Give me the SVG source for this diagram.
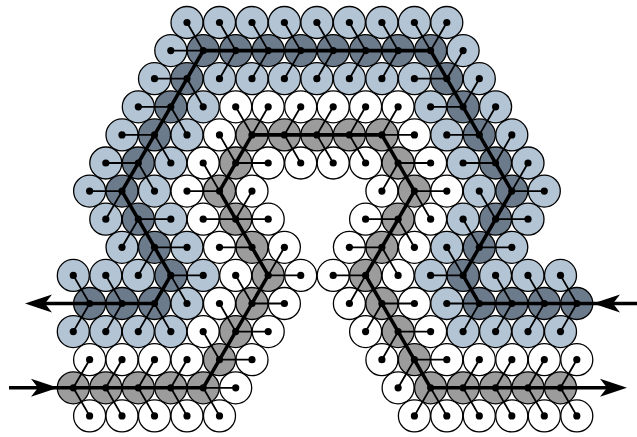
<svg xmlns="http://www.w3.org/2000/svg" xmlns:xlink="http://www.w3.org/1999/xlink" width="637" height="437" viewBox="0 0 637 437">
<style>
.ring{stroke:#000;stroke-width:1.3}
.fL{fill:#b3c4d4}.fD{fill:#6b7b8c}.fG{fill:#9c9c9c}.fW{fill:#fff}
.dot{fill:#000}
.t{stroke:#000;stroke-width:1.8;stroke-linecap:round}
.p{stroke:#000;stroke-width:3.6;fill:none;stroke-linejoin:round}
.ah{fill:#000}
</style>
<defs>
<g id="L"><circle class="ring fL" r="16"/><circle class="dot" r="3.6"/></g>
<g id="D"><circle class="ring fD" r="16"/><circle class="dot" r="3.6"/></g>
<g id="G"><circle class="ring fG" r="16"/><circle class="dot" r="3.6"/></g>
<g id="W"><circle class="ring fW" r="16"/><circle class="dot" r="3.6"/></g>
<path id="ah" d="M0,0 L-27,-9 L-20,0 L-27,9 Z"/>
</defs>
<rect width="637" height="437" fill="#fff"/>
<g id="nodes">
<g id="n0_10"><use href="#L" x="187.0" y="22.5"/></g>
<g id="n0_12"><use href="#L" x="219.5" y="22.5"/></g>
<g id="n0_14"><use href="#L" x="252.0" y="22.5"/></g>
<g id="n0_16"><use href="#L" x="284.4" y="22.5"/></g>
<g id="n0_18"><use href="#L" x="316.9" y="22.5"/></g>
<g id="n0_20"><use href="#L" x="349.4" y="22.5"/></g>
<g id="n0_22"><use href="#L" x="381.9" y="22.5"/></g>
<g id="n0_24"><use href="#L" x="414.4" y="22.5"/></g>
<g id="n0_26"><use href="#L" x="446.8" y="22.5"/></g>

<g id="n1_9"><use href="#L" x="170.8" y="50.6"/></g>
<g id="n1_11"><use href="#D" x="203.2" y="50.6"/></g>
<g id="n1_13"><use href="#D" x="235.7" y="50.6"/></g>
<g id="n1_15"><use href="#D" x="268.2" y="50.6"/></g>
<g id="n1_17"><use href="#D" x="300.7" y="50.6"/></g>
<g id="n1_19"><use href="#D" x="333.2" y="50.6"/></g>
<g id="n1_21"><use href="#D" x="365.6" y="50.6"/></g>
<g id="n1_23"><use href="#D" x="398.1" y="50.6"/></g>
<g id="n1_25"><use href="#D" x="430.6" y="50.6"/></g>
<g id="n1_27"><use href="#L" x="463.1" y="50.6"/></g>

<g id="n2_8"><use href="#L" x="154.5" y="78.7"/></g>
<g id="n2_10"><use href="#D" x="187.0" y="78.7"/></g>
<g id="n2_12"><use href="#L" x="219.5" y="78.7"/></g>
<g id="n2_14"><use href="#L" x="252.0" y="78.7"/></g>
<g id="n2_16"><use href="#L" x="284.4" y="78.7"/></g>
<g id="n2_18"><use href="#L" x="316.9" y="78.7"/></g>
<g id="n2_20"><use href="#L" x="349.4" y="78.7"/></g>
<g id="n2_22"><use href="#L" x="381.9" y="78.7"/></g>
<g id="n2_24"><use href="#L" x="414.4" y="78.7"/></g>
<g id="n2_26"><use href="#D" x="446.8" y="78.7"/></g>
<g id="n2_28"><use href="#L" x="479.3" y="78.7"/></g>

<g id="n3_7"><use href="#L" x="138.3" y="106.8"/></g>
<g id="n3_9"><use href="#D" x="170.8" y="106.8"/></g>
<g id="n3_11"><use href="#L" x="203.2" y="106.8"/></g>
<g id="n3_13"><use href="#W" x="235.7" y="106.8"/></g>
<g id="n3_15"><use href="#W" x="268.2" y="106.8"/></g>
<g id="n3_17"><use href="#W" x="300.7" y="106.8"/></g>
<g id="n3_19"><use href="#W" x="333.2" y="106.8"/></g>
<g id="n3_21"><use href="#W" x="365.6" y="106.8"/></g>
<g id="n3_23"><use href="#W" x="398.1" y="106.8"/></g>
<g id="n3_25"><use href="#L" x="430.6" y="106.8"/></g>
<g id="n3_27"><use href="#D" x="463.1" y="106.8"/></g>
<g id="n3_29"><use href="#L" x="495.6" y="106.8"/></g>

<g id="n4_6"><use href="#L" x="122.0" y="134.9"/></g>
<g id="n4_8"><use href="#D" x="154.5" y="134.9"/></g>
<g id="n4_10"><use href="#L" x="187.0" y="134.9"/></g>
<g id="n4_12"><use href="#W" x="219.5" y="134.9"/></g>
<g id="n4_14"><use href="#G" x="252.0" y="134.9"/></g>
<g id="n4_16"><use href="#G" x="284.4" y="134.9"/></g>
<g id="n4_18"><use href="#G" x="316.9" y="134.9"/></g>
<g id="n4_20"><use href="#G" x="349.4" y="134.9"/></g>
<g id="n4_22"><use href="#G" x="381.9" y="134.9"/></g>
<g id="n4_24"><use href="#W" x="414.4" y="134.9"/></g>
<g id="n4_26"><use href="#L" x="446.8" y="134.9"/></g>
<g id="n4_28"><use href="#D" x="479.3" y="134.9"/></g>
<g id="n4_30"><use href="#L" x="511.8" y="134.9"/></g>

<g id="n5_5"><use href="#L" x="105.8" y="163.0"/></g>
<g id="n5_7"><use href="#D" x="138.3" y="163.0"/></g>
<g id="n5_9"><use href="#L" x="170.8" y="163.0"/></g>
<g id="n5_11"><use href="#W" x="203.2" y="163.0"/></g>
<g id="n5_13"><use href="#G" x="235.7" y="163.0"/></g>
<g id="n5_15"><use href="#W" x="268.2" y="163.0"/></g>
<g id="n5_17"><use href="#W" x="300.7" y="163.0"/></g>
<g id="n5_19"><use href="#W" x="333.2" y="163.0"/></g>
<g id="n5_21"><use href="#W" x="365.6" y="163.0"/></g>
<g id="n5_23"><use href="#G" x="398.1" y="163.0"/></g>
<g id="n5_25"><use href="#W" x="430.6" y="163.0"/></g>
<g id="n5_27"><use href="#L" x="463.1" y="163.0"/></g>
<g id="n5_29"><use href="#D" x="495.6" y="163.0"/></g>
<g id="n5_31"><use href="#L" x="528.0" y="163.0"/></g>

<g id="n6_4"><use href="#L" x="89.6" y="191.1"/></g>
<g id="n6_6"><use href="#D" x="122.0" y="191.1"/></g>
<g id="n6_8"><use href="#L" x="154.5" y="191.1"/></g>
<g id="n6_10"><use href="#W" x="187.0" y="191.1"/></g>
<g id="n6_12"><use href="#G" x="219.5" y="191.1"/></g>
<g id="n6_14"><use href="#W" x="252.0" y="191.1"/></g>
<g id="n6_22"><use href="#W" x="381.9" y="191.1"/></g>
<g id="n6_24"><use href="#G" x="414.4" y="191.1"/></g>
<g id="n6_26"><use href="#W" x="446.8" y="191.1"/></g>
<g id="n6_28"><use href="#L" x="479.3" y="191.1"/></g>
<g id="n6_30"><use href="#D" x="511.8" y="191.1"/></g>
<g id="n6_32"><use href="#L" x="544.3" y="191.1"/></g>

<g id="n7_5"><use href="#L" x="105.8" y="219.2"/></g>
<g id="n7_7"><use href="#D" x="138.3" y="219.2"/></g>
<g id="n7_9"><use href="#L" x="170.8" y="219.2"/></g>
<g id="n7_11"><use href="#W" x="203.2" y="219.2"/></g>
<g id="n7_13"><use href="#G" x="235.7" y="219.2"/></g>
<g id="n7_15"><use href="#W" x="268.2" y="219.2"/></g>
<g id="n7_21"><use href="#W" x="365.6" y="219.2"/></g>
<g id="n7_23"><use href="#G" x="398.1" y="219.2"/></g>
<g id="n7_25"><use href="#W" x="430.6" y="219.2"/></g>
<g id="n7_27"><use href="#L" x="463.1" y="219.2"/></g>
<g id="n7_29"><use href="#D" x="495.6" y="219.2"/></g>
<g id="n7_31"><use href="#L" x="528.0" y="219.2"/></g>

<g id="n8_6"><use href="#L" x="122.0" y="247.3"/></g>
<g id="n8_8"><use href="#D" x="154.5" y="247.3"/></g>
<g id="n8_10"><use href="#L" x="187.0" y="247.3"/></g>
<g id="n8_12"><use href="#W" x="219.5" y="247.3"/></g>
<g id="n8_14"><use href="#G" x="252.0" y="247.3"/></g>
<g id="n8_16"><use href="#W" x="284.4" y="247.3"/></g>
<g id="n8_20"><use href="#W" x="349.4" y="247.3"/></g>
<g id="n8_22"><use href="#G" x="381.9" y="247.3"/></g>
<g id="n8_24"><use href="#W" x="414.4" y="247.3"/></g>
<g id="n8_26"><use href="#L" x="446.8" y="247.3"/></g>
<g id="n8_28"><use href="#D" x="479.3" y="247.3"/></g>
<g id="n8_30"><use href="#L" x="511.8" y="247.3"/></g>

<g id="n9_3"><use href="#L" x="73.3" y="275.4"/></g>
<g id="n9_5"><use href="#L" x="105.8" y="275.4"/></g>
<g id="n9_7"><use href="#L" x="138.3" y="275.4"/></g>
<g id="n9_9"><use href="#D" x="170.8" y="275.4"/></g>
<g id="n9_11"><use href="#L" x="203.2" y="275.4"/></g>
<g id="n9_13"><use href="#W" x="235.7" y="275.4"/></g>
<g id="n9_15"><use href="#G" x="268.2" y="275.4"/></g>
<g id="n9_17"><use href="#W" x="300.7" y="275.4"/></g>
<g id="n9_19"><use href="#W" x="333.2" y="275.4"/></g>
<g id="n9_21"><use href="#G" x="365.6" y="275.4"/></g>
<g id="n9_23"><use href="#W" x="398.1" y="275.4"/></g>
<g id="n9_25"><use href="#L" x="430.6" y="275.4"/></g>
<g id="n9_27"><use href="#D" x="463.1" y="275.4"/></g>
<g id="n9_29"><use href="#L" x="495.6" y="275.4"/></g>
<g id="n9_31"><use href="#L" x="528.0" y="275.4"/></g>
<g id="n9_33"><use href="#L" x="560.5" y="275.4"/></g>

<g id="n10_4"><use href="#D" x="89.6" y="303.5"/></g>
<g id="n10_6"><use href="#D" x="122.0" y="303.5"/></g>
<g id="n10_8"><use href="#D" x="154.5" y="303.5"/></g>
<g id="n10_10"><use href="#L" x="187.0" y="303.5"/></g>
<g id="n10_12"><use href="#W" x="219.5" y="303.5"/></g>
<g id="n10_14"><use href="#G" x="252.0" y="303.5"/></g>
<g id="n10_16"><use href="#W" x="284.4" y="303.5"/></g>
<g id="n10_20"><use href="#W" x="349.4" y="303.5"/></g>
<g id="n10_22"><use href="#G" x="381.9" y="303.5"/></g>
<g id="n10_24"><use href="#W" x="414.4" y="303.5"/></g>
<g id="n10_26"><use href="#L" x="446.8" y="303.5"/></g>
<g id="n10_28"><use href="#D" x="479.3" y="303.5"/></g>
<g id="n10_30"><use href="#D" x="511.8" y="303.5"/></g>
<g id="n10_32"><use href="#D" x="544.3" y="303.5"/></g>
<g id="n10_34"><use href="#D" x="576.8" y="303.5"/></g>

<g id="n11_3"><use href="#L" x="73.3" y="331.6"/></g>
<g id="n11_5"><use href="#L" x="105.8" y="331.6"/></g>
<g id="n11_7"><use href="#L" x="138.3" y="331.6"/></g>
<g id="n11_9"><use href="#L" x="170.8" y="331.6"/></g>
<g id="n11_11"><use href="#W" x="203.2" y="331.6"/></g>
<g id="n11_13"><use href="#G" x="235.7" y="331.6"/></g>
<g id="n11_15"><use href="#W" x="268.2" y="331.6"/></g>
<g id="n11_21"><use href="#W" x="365.6" y="331.6"/></g>
<g id="n11_23"><use href="#G" x="398.1" y="331.6"/></g>
<g id="n11_25"><use href="#W" x="430.6" y="331.6"/></g>
<g id="n11_27"><use href="#L" x="463.1" y="331.6"/></g>
<g id="n11_29"><use href="#L" x="495.6" y="331.6"/></g>
<g id="n11_31"><use href="#L" x="528.0" y="331.6"/></g>
<g id="n11_33"><use href="#L" x="560.5" y="331.6"/></g>

<g id="n12_4"><use href="#W" x="89.6" y="359.7"/></g>
<g id="n12_6"><use href="#W" x="122.0" y="359.7"/></g>
<g id="n12_8"><use href="#W" x="154.5" y="359.7"/></g>
<g id="n12_10"><use href="#W" x="187.0" y="359.7"/></g>
<g id="n12_12"><use href="#G" x="219.5" y="359.7"/></g>
<g id="n12_14"><use href="#W" x="252.0" y="359.7"/></g>
<g id="n12_22"><use href="#W" x="381.9" y="359.7"/></g>
<g id="n12_24"><use href="#G" x="414.4" y="359.7"/></g>
<g id="n12_26"><use href="#W" x="446.8" y="359.7"/></g>
<g id="n12_28"><use href="#W" x="479.3" y="359.7"/></g>
<g id="n12_30"><use href="#W" x="511.8" y="359.7"/></g>
<g id="n12_32"><use href="#W" x="544.3" y="359.7"/></g>
<g id="n12_34"><use href="#W" x="576.8" y="359.7"/></g>

<g id="n13_3"><use href="#G" x="73.3" y="387.8"/></g>
<g id="n13_5"><use href="#G" x="105.8" y="387.8"/></g>
<g id="n13_7"><use href="#G" x="138.3" y="387.8"/></g>
<g id="n13_9"><use href="#G" x="170.8" y="387.8"/></g>
<g id="n13_11"><use href="#G" x="203.2" y="387.8"/></g>
<g id="n13_13"><use href="#W" x="235.7" y="387.8"/></g>
<g id="n13_23"><use href="#W" x="398.1" y="387.8"/></g>
<g id="n13_25"><use href="#G" x="430.6" y="387.8"/></g>
<g id="n13_27"><use href="#G" x="463.1" y="387.8"/></g>
<g id="n13_29"><use href="#G" x="495.6" y="387.8"/></g>
<g id="n13_31"><use href="#G" x="528.0" y="387.8"/></g>
<g id="n13_33"><use href="#G" x="560.5" y="387.8"/></g>

<g id="n14_4"><use href="#W" x="89.6" y="415.9"/></g>
<g id="n14_6"><use href="#W" x="122.0" y="415.9"/></g>
<g id="n14_8"><use href="#W" x="154.5" y="415.9"/></g>
<g id="n14_10"><use href="#W" x="187.0" y="415.9"/></g>
<g id="n14_12"><use href="#W" x="219.5" y="415.9"/></g>
<g id="n14_24"><use href="#W" x="414.4" y="415.9"/></g>
<g id="n14_26"><use href="#W" x="446.8" y="415.9"/></g>
<g id="n14_28"><use href="#W" x="479.3" y="415.9"/></g>
<g id="n14_30"><use href="#W" x="511.8" y="415.9"/></g>
<g id="n14_32"><use href="#W" x="544.3" y="415.9"/></g>
<g id="n14_34"><use href="#W" x="576.8" y="415.9"/></g>
</g>
<g id="connectors">
<g id="links">
<line class="t" x1="187.0" y1="22.5" x2="203.2" y2="50.6"/>
<line class="t" x1="219.5" y1="22.5" x2="235.7" y2="50.6"/>
<line class="t" x1="252.0" y1="22.5" x2="268.2" y2="50.6"/>
<line class="t" x1="284.4" y1="22.5" x2="300.7" y2="50.6"/>
<line class="t" x1="316.9" y1="22.5" x2="333.2" y2="50.6"/>
<line class="t" x1="349.4" y1="22.5" x2="365.6" y2="50.6"/>
<line class="t" x1="381.9" y1="22.5" x2="398.1" y2="50.6"/>
<line class="t" x1="414.4" y1="22.5" x2="430.6" y2="50.6"/>
<line class="t" x1="446.8" y1="22.5" x2="430.6" y2="50.6"/>
<line class="t" x1="170.8" y1="50.6" x2="203.2" y2="50.6"/>
<line class="t" x1="463.1" y1="50.6" x2="446.8" y2="78.7"/>
<line class="t" x1="154.5" y1="78.7" x2="187.0" y2="78.7"/>
<line class="t" x1="219.5" y1="78.7" x2="235.7" y2="50.6"/>
<line class="t" x1="252.0" y1="78.7" x2="268.2" y2="50.6"/>
<line class="t" x1="284.4" y1="78.7" x2="300.7" y2="50.6"/>
<line class="t" x1="316.9" y1="78.7" x2="333.2" y2="50.6"/>
<line class="t" x1="349.4" y1="78.7" x2="365.6" y2="50.6"/>
<line class="t" x1="381.9" y1="78.7" x2="398.1" y2="50.6"/>
<line class="t" x1="414.4" y1="78.7" x2="446.8" y2="78.7"/>
<line class="t" x1="479.3" y1="78.7" x2="463.1" y2="106.8"/>
<line class="t" x1="138.3" y1="106.8" x2="170.8" y2="106.8"/>
<line class="t" x1="203.2" y1="106.8" x2="187.0" y2="78.7"/>
<line class="t" x1="235.7" y1="106.8" x2="252.0" y2="134.9"/>
<line class="t" x1="268.2" y1="106.8" x2="252.0" y2="134.9"/>
<line class="t" x1="300.7" y1="106.8" x2="284.4" y2="134.9"/>
<line class="t" x1="333.2" y1="106.8" x2="316.9" y2="134.9"/>
<line class="t" x1="365.6" y1="106.8" x2="349.4" y2="134.9"/>
<line class="t" x1="398.1" y1="106.8" x2="381.9" y2="134.9"/>
<line class="t" x1="430.6" y1="106.8" x2="463.1" y2="106.8"/>
<line class="t" x1="495.6" y1="106.8" x2="479.3" y2="134.9"/>
<line class="t" x1="122.0" y1="134.9" x2="154.5" y2="134.9"/>
<line class="t" x1="187.0" y1="134.9" x2="170.8" y2="106.8"/>
<line class="t" x1="219.5" y1="134.9" x2="235.7" y2="163.0"/>
<line class="t" x1="414.4" y1="134.9" x2="381.9" y2="134.9"/>
<line class="t" x1="446.8" y1="134.9" x2="479.3" y2="134.9"/>
<line class="t" x1="511.8" y1="134.9" x2="495.6" y2="163.0"/>
<line class="t" x1="105.8" y1="163.0" x2="138.3" y2="163.0"/>
<line class="t" x1="170.8" y1="163.0" x2="154.5" y2="134.9"/>
<line class="t" x1="203.2" y1="163.0" x2="219.5" y2="191.1"/>
<line class="t" x1="268.2" y1="163.0" x2="235.7" y2="163.0"/>
<line class="t" x1="300.7" y1="163.0" x2="284.4" y2="134.9"/>
<line class="t" x1="333.2" y1="163.0" x2="316.9" y2="134.9"/>
<line class="t" x1="365.6" y1="163.0" x2="349.4" y2="134.9"/>
<line class="t" x1="430.6" y1="163.0" x2="398.1" y2="163.0"/>
<line class="t" x1="463.1" y1="163.0" x2="495.6" y2="163.0"/>
<line class="t" x1="528.0" y1="163.0" x2="511.8" y2="191.1"/>
<line class="t" x1="89.6" y1="191.1" x2="122.0" y2="191.1"/>
<line class="t" x1="154.5" y1="191.1" x2="138.3" y2="163.0"/>
<line class="t" x1="187.0" y1="191.1" x2="219.5" y2="191.1"/>
<line class="t" x1="252.0" y1="191.1" x2="235.7" y2="219.2"/>
<line class="t" x1="381.9" y1="191.1" x2="398.1" y2="163.0"/>
<line class="t" x1="446.8" y1="191.1" x2="414.4" y2="191.1"/>
<line class="t" x1="479.3" y1="191.1" x2="495.6" y2="219.2"/>
<line class="t" x1="544.3" y1="191.1" x2="511.8" y2="191.1"/>
<line class="t" x1="105.8" y1="219.2" x2="122.0" y2="191.1"/>
<line class="t" x1="170.8" y1="219.2" x2="138.3" y2="219.2"/>
<line class="t" x1="203.2" y1="219.2" x2="235.7" y2="219.2"/>
<line class="t" x1="268.2" y1="219.2" x2="235.7" y2="219.2"/>
<line class="t" x1="365.6" y1="219.2" x2="398.1" y2="219.2"/>
<line class="t" x1="430.6" y1="219.2" x2="414.4" y2="191.1"/>
<line class="t" x1="463.1" y1="219.2" x2="479.3" y2="247.3"/>
<line class="t" x1="528.0" y1="219.2" x2="495.6" y2="219.2"/>
<line class="t" x1="122.0" y1="247.3" x2="138.3" y2="219.2"/>
<line class="t" x1="187.0" y1="247.3" x2="154.5" y2="247.3"/>
<line class="t" x1="219.5" y1="247.3" x2="252.0" y2="247.3"/>
<line class="t" x1="284.4" y1="247.3" x2="268.2" y2="275.4"/>
<line class="t" x1="349.4" y1="247.3" x2="381.9" y2="247.3"/>
<line class="t" x1="414.4" y1="247.3" x2="398.1" y2="219.2"/>
<line class="t" x1="446.8" y1="247.3" x2="463.1" y2="275.4"/>
<line class="t" x1="511.8" y1="247.3" x2="479.3" y2="247.3"/>
<line class="t" x1="73.3" y1="275.4" x2="89.6" y2="303.5"/>
<line class="t" x1="105.8" y1="275.4" x2="122.0" y2="303.5"/>
<line class="t" x1="138.3" y1="275.4" x2="154.5" y2="247.3"/>
<line class="t" x1="203.2" y1="275.4" x2="170.8" y2="275.4"/>
<line class="t" x1="235.7" y1="275.4" x2="252.0" y2="303.5"/>
<line class="t" x1="300.7" y1="275.4" x2="268.2" y2="275.4"/>
<line class="t" x1="333.2" y1="275.4" x2="365.6" y2="275.4"/>
<line class="t" x1="398.1" y1="275.4" x2="381.9" y2="247.3"/>
<line class="t" x1="430.6" y1="275.4" x2="463.1" y2="275.4"/>
<line class="t" x1="495.6" y1="275.4" x2="511.8" y2="303.5"/>
<line class="t" x1="528.0" y1="275.4" x2="544.3" y2="303.5"/>
<line class="t" x1="560.5" y1="275.4" x2="576.8" y2="303.5"/>
<line class="t" x1="187.0" y1="303.5" x2="170.8" y2="275.4"/>
<line class="t" x1="219.5" y1="303.5" x2="235.7" y2="331.6"/>
<line class="t" x1="284.4" y1="303.5" x2="252.0" y2="303.5"/>
<line class="t" x1="349.4" y1="303.5" x2="365.6" y2="275.4"/>
<line class="t" x1="414.4" y1="303.5" x2="381.9" y2="303.5"/>
<line class="t" x1="446.8" y1="303.5" x2="479.3" y2="303.5"/>
<line class="t" x1="73.3" y1="331.6" x2="89.6" y2="303.5"/>
<line class="t" x1="105.8" y1="331.6" x2="122.0" y2="303.5"/>
<line class="t" x1="138.3" y1="331.6" x2="154.5" y2="303.5"/>
<line class="t" x1="170.8" y1="331.6" x2="154.5" y2="303.5"/>
<line class="t" x1="203.2" y1="331.6" x2="219.5" y2="359.7"/>
<line class="t" x1="268.2" y1="331.6" x2="235.7" y2="331.6"/>
<line class="t" x1="365.6" y1="331.6" x2="381.9" y2="303.5"/>
<line class="t" x1="430.6" y1="331.6" x2="398.1" y2="331.6"/>
<line class="t" x1="463.1" y1="331.6" x2="479.3" y2="303.5"/>
<line class="t" x1="495.6" y1="331.6" x2="511.8" y2="303.5"/>
<line class="t" x1="528.0" y1="331.6" x2="544.3" y2="303.5"/>
<line class="t" x1="560.5" y1="331.6" x2="576.8" y2="303.5"/>
<line class="t" x1="89.6" y1="359.7" x2="73.3" y2="387.8"/>
<line class="t" x1="122.0" y1="359.7" x2="105.8" y2="387.8"/>
<line class="t" x1="154.5" y1="359.7" x2="138.3" y2="387.8"/>
<line class="t" x1="187.0" y1="359.7" x2="170.8" y2="387.8"/>
<line class="t" x1="252.0" y1="359.7" x2="219.5" y2="359.7"/>
<line class="t" x1="381.9" y1="359.7" x2="398.1" y2="331.6"/>
<line class="t" x1="446.8" y1="359.7" x2="414.4" y2="359.7"/>
<line class="t" x1="479.3" y1="359.7" x2="463.1" y2="387.8"/>
<line class="t" x1="511.8" y1="359.7" x2="495.6" y2="387.8"/>
<line class="t" x1="544.3" y1="359.7" x2="528.0" y2="387.8"/>
<line class="t" x1="576.8" y1="359.7" x2="560.5" y2="387.8"/>
<line class="t" x1="235.7" y1="387.8" x2="203.2" y2="387.8"/>
<line class="t" x1="398.1" y1="387.8" x2="414.4" y2="359.7"/>
<line class="t" x1="89.6" y1="415.9" x2="73.3" y2="387.8"/>
<line class="t" x1="122.0" y1="415.9" x2="105.8" y2="387.8"/>
<line class="t" x1="154.5" y1="415.9" x2="138.3" y2="387.8"/>
<line class="t" x1="187.0" y1="415.9" x2="170.8" y2="387.8"/>
<line class="t" x1="219.5" y1="415.9" x2="203.2" y2="387.8"/>
<line class="t" x1="414.4" y1="415.9" x2="430.6" y2="387.8"/>
<line class="t" x1="446.8" y1="415.9" x2="430.6" y2="387.8"/>
<line class="t" x1="479.3" y1="415.9" x2="463.1" y2="387.8"/>
<line class="t" x1="511.8" y1="415.9" x2="495.6" y2="387.8"/>
<line class="t" x1="544.3" y1="415.9" x2="528.0" y2="387.8"/>
<line class="t" x1="576.8" y1="415.9" x2="560.5" y2="387.8"/>
</g>
<path id="pathDark" class="p" d="M637,303.5 L479.3,303.5 L463.1,275.4 L511.8,191.1 L446.8,78.7 L430.6,50.6 L203.2,50.6 L122.0,191.1 L170.8,275.4 L154.5,303.5 L32,303.5"/>
<path id="pathGrey" class="p" d="M9,387.8 L203.2,387.8 L268.2,275.4 L219.5,191.1 L252.0,134.9 L381.9,134.9 L414.4,191.1 L365.6,275.4 L430.6,387.8 L620,387.8"/>
<use href="#ah" class="ah" transform="translate(25,303.5) rotate(180)"/>
<use href="#ah" class="ah" transform="translate(593,303.5) rotate(180)"/>
<use href="#ah" class="ah" transform="translate(58,387.8)"/>
<use href="#ah" class="ah" transform="translate(627,387.8)"/>
</g>
</svg>
